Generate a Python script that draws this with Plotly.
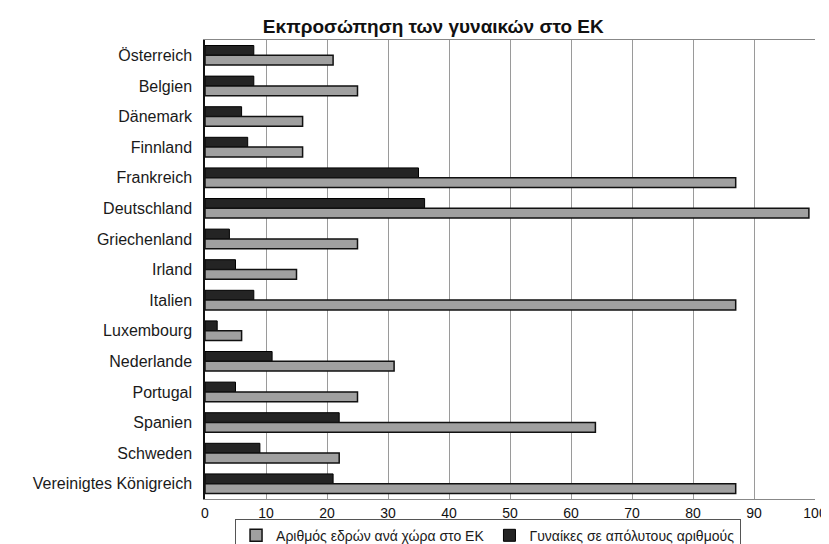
import plotly.graph_objects as go

countries = ["Österreich", "Belgien", "Dänemark", "Finnland", "Frankreich", "Deutschland",
             "Griechenland", "Irland", "Italien", "Luxembourg", "Nederlande", "Portugal",
             "Spanien", "Schweden", "Vereinigtes Königreich"]
seats = [21, 25, 16, 16, 87, 99, 25, 15, 87, 6, 31, 25, 64, 22, 87]
women = [8, 8, 6, 7, 35, 36, 4, 5, 8, 2, 11, 5, 22, 9, 21]
x_ticks = [0, 10, 20, 30, 40, 50, 60, 70, 80, 90, 100]

FONT = "Liberation Sans, Arial, sans-serif"

fig = go.Figure()
fig.add_trace(go.Bar(
    y=countries, x=women, orientation="h", name="Γυναίκες σε απόλυτους αριθμούς",
    marker=dict(color="#242424", line=dict(color="#000000", width=1)), legendrank=2))
fig.add_trace(go.Bar(
    y=countries, x=seats, orientation="h", name="Αριθμός εδρών ανά χώρα στο ΕΚ",
    marker=dict(color="#a0a0a0", line=dict(color="#111111", width=1.5)), legendrank=1))

fig.update_layout(
    width=829, height=544,
    margin=dict(l=197, r=22, t=32, b=53, autoexpand=False),
    paper_bgcolor="white", plot_bgcolor="white",
    barmode="group", bargap=0.36, bargroupgap=0.0,
    font=dict(family=FONT, size=16, color="#1a1a1a"),
    title=dict(text="<b>Εκπροσώπηση των γυναικών στο ΕΚ</b>", x=0.513, xanchor="center",
               y=0.967, yanchor="middle", font=dict(family=FONT, size=19, color="#111")),
    legend=dict(orientation="h", x=0.464, xanchor="center", y=-0.117, yanchor="bottom",
                bordercolor="#555", borderwidth=1, font=dict(size=14),
                bgcolor="rgba(255,255,255,0)",
                traceorder="normal", itemwidth=30, tracegroupgap=0, valign="middle"),
    showlegend=True,
)
fig.update_xaxes(range=[0, 100], tickvals=x_ticks, showgrid=True, gridcolor="#9a9a9a",
                 gridwidth=1, zeroline=False, showline=True, linecolor="#888",
                 mirror=True, ticks="", ticklabelstandoff=1,
                 tickfont=dict(size=14, color="#111"))
fig.update_yaxes(autorange="reversed", showline=True, linecolor="#111", linewidth=1.5,
                 mirror=False, ticks="", ticklabelstandoff=8,
                 tickfont=dict(size=16, color="#1a1a1a"))

fig.write_html("out.html")
